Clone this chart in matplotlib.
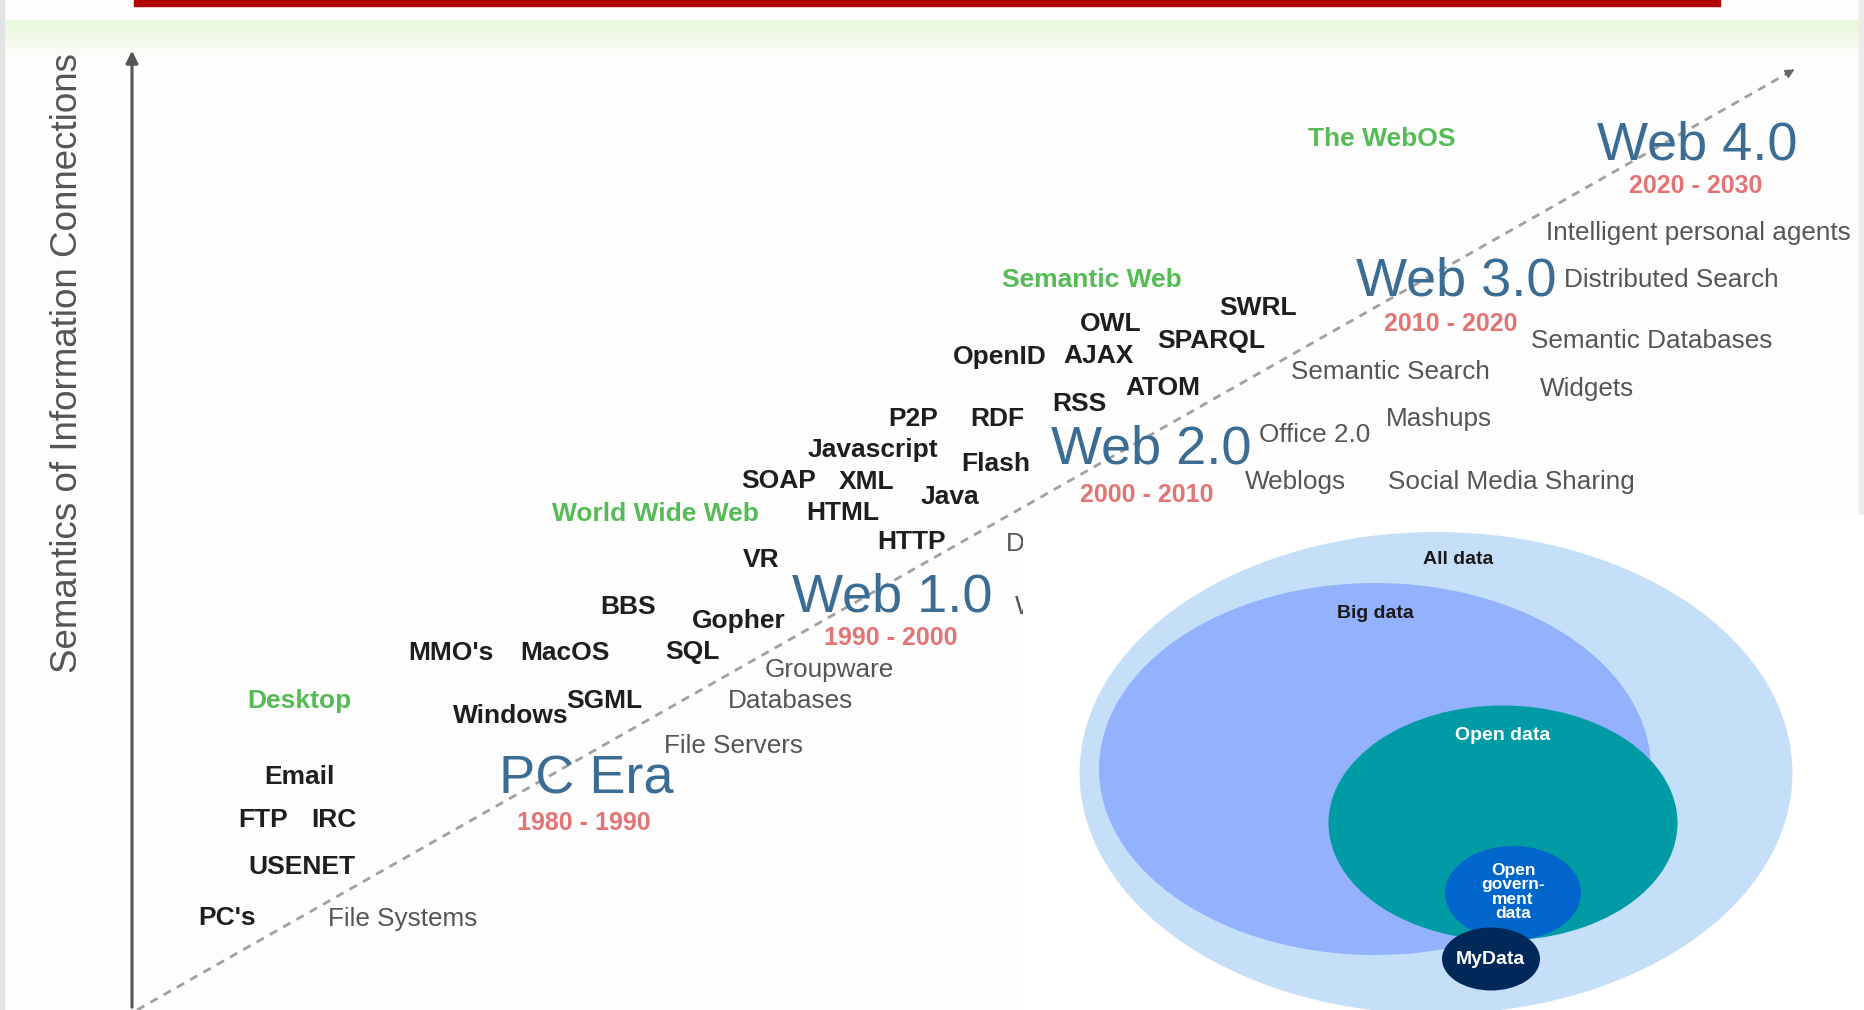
import matplotlib
matplotlib.use("Agg")
import matplotlib.pyplot as plt
import numpy as np
from matplotlib.patches import Ellipse, Rectangle

plt.rcParams['font.family'] = ['Liberation Sans', 'DejaVu Sans']

W, H = 1865, 1010

# ---------------- data (pixel positions in the 1865x1010 canvas) ----------------
era_titles = ["Web 4.0", "Web 3.0", "Web 2.0", "Web 1.0", "PC Era"]
era_title_x = [1697, 1456, 1151, 892, 586]
era_title_y = [145, 282, 450, 597, 780]

era_dates = ["2020 - 2030", "2010 - 2020", "2000 - 2010", "1990 - 2000", "1980 - 1990"]
era_date_x = [1696, 1451, 1147, 891, 584]
era_date_y = [186, 324, 495, 638, 823]

phase_labels = ["The WebOS", "Semantic Web", "World Wide Web", "Desktop"]
phase_x = [1382, 1092, 655, 299]
phase_y = [139, 280, 514, 701]

tech_labels = ["SWRL", "OWL", "SPARQL", "OpenID", "AJAX", "ATOM", "RSS", "P2P", "RDF",
               "Javascript", "Flash", "SOAP", "XML", "Java", "HTML", "HTTP", "VR", "BBS",
               "Gopher", "MMO's", "MacOS", "SQL", "SGML", "Windows", "Email", "FTP", "IRC",
               "USENET", "PC's"]
tech_x = [1258, 1111, 1211, 1000, 1099, 1163, 1079, 913, 997,
          873, 996, 779, 867, 950, 843, 912, 761, 628,
          739, 451, 565, 692, 604, 511, 299, 263, 334,
          302, 227]
tech_y = [308, 324, 341, 357, 356, 388, 404, 419, 419,
          450, 464, 481, 482, 497, 513, 542, 560, 607,
          621, 653, 653, 652, 701, 716, 777, 820, 820,
          867, 918]

app_labels = ["Intelligent personal agents", "Distributed Search", "Semantic Databases",
              "Semantic Search", "Widgets", "Mashups", "Office 2.0", "Weblogs",
              "Social Media Sharing", "Groupware", "Databases", "File Servers", "File Systems"]
app_x = [1698, 1671, 1652, 1390, 1587, 1439, 1315, 1295, 1511, 829, 791, 734, 403]
app_y = [233, 280, 341, 372, 389, 419, 435, 482, 482, 670, 701, 746, 919]

hidden_labels = ["Directories", "Websites"]
hidden_x = [1006, 1015]
hidden_y = [544, 607]

y_axis_label = "Semantics of Information Connections"

# nested data circles: label, centre x, centre y, width, height, colour
circle_names = ["All data", "Big data", "Open data", "Open\ngovern-\nment\ndata", "MyData"]
circle_cx = [1436, 1375, 1503, 1513, 1491]
circle_cy = [773, 769, 823, 893, 959]
circle_w = [713, 552, 349, 136, 98]
circle_h = [482, 372, 235, 94, 63]
circle_col = ["#c6dff9", "#93b1fd", "#019ba6", "#0066cc", "#00295a"]
circle_lab_x = [1458, 1375, 1503, 1513, 1490]
circle_lab_y = [559, 614, 735, 892, 959]
circle_lab_col = ["#1a1a1a", "#1a1a1a", "white", "white", "white"]

# ---------------- figure ----------------
fig = plt.figure(figsize=(W / 100, H / 100), dpi=100)
ax = fig.add_axes([0, 0, 1, 1])
ax.set_xlim(0, W)
ax.set_ylim(H, 0)
ax.axis('off')
fig.patch.set_facecolor('#fdfdfd')

# top decoration: red bar and a pale green fade
ax.add_patch(Rectangle((134, 0), 1586, 6, color='#b00000', zorder=3))
grad = np.linspace(1, 0, 100).reshape(-1, 1)
green = np.array([0.91, 0.97, 0.85])
white = np.array([0.995, 0.995, 0.995])
img = grad[..., None] * green + (1 - grad[..., None]) * white
img = np.repeat(img, 2, axis=1)
ax.imshow(img, extent=(5, 1860, 60, 20), aspect='auto', zorder=0)
ax.add_patch(Rectangle((0, 0), 4, H, color='#e3e3e3', zorder=1))
ax.add_patch(Rectangle((1859, 0), 6, 515, color='#ececec', zorder=1))

# vertical axis with arrow
ax.annotate('', xy=(132, 48), xytext=(132, H),
            arrowprops=dict(arrowstyle='-|>', color='#555555', lw=2.2,
                            mutation_scale=18), zorder=2)
ax.text(68, 363, y_axis_label, rotation=90, ha='center', va='center',
        fontsize=26.5, color='#555555', zorder=4)

# dashed diagonal trend line with arrow head
x0, y0, x1, y1 = 137, H, 1797, 68
ax.plot([x0, x1 - 8], [y0, y1 + 4.5], ls=(0, (3, 2.5)), color='#a0a0a0', lw=2, zorder=2)
ax.annotate('', xy=(x1, y1), xytext=(x1 - 14, y1 + 8),
            arrowprops=dict(arrowstyle='-|>', color='#666666', lw=1, mutation_scale=14),
            zorder=2)

for t, x, y in zip(era_titles, era_title_x, era_title_y):
    ax.text(x, y, t, ha='center', va='center', fontsize=39, color='#3b6d94', zorder=4)
for t, x, y in zip(era_dates, era_date_x, era_date_y):
    ax.text(x, y, t, ha='center', va='center', fontsize=18, fontweight='bold',
            color='#e27474', zorder=4)
for t, x, y in zip(phase_labels, phase_x, phase_y):
    ax.text(x, y, t, ha='center', va='center', fontsize=19, fontweight='bold',
            color='#55bb55', zorder=4)
for t, x, y in zip(tech_labels, tech_x, tech_y):
    ax.text(x, y, t, ha='center', va='center', fontsize=19, fontweight='bold',
            color='#1e1e1e', zorder=4)
for t, x, y in zip(app_labels, app_x, app_y):
    ax.text(x, y, t, ha='center', va='center', fontsize=18.8, color='#555555', zorder=4)
for t, x, y in zip(hidden_labels, hidden_x, hidden_y):
    ax.text(x, y, t, ha='left', va='center', fontsize=18.8, color='#555555', zorder=4)

# overlay panel with nested data circles
ax.add_patch(Rectangle((1023, 515), W - 1023, H - 515, facecolor='white',
                       edgecolor='none', zorder=5))
for cx, cy, w, h, c in zip(circle_cx, circle_cy, circle_w, circle_h, circle_col):
    ax.add_patch(Ellipse((cx, cy), w, h, facecolor=c, edgecolor='none', zorder=6))
for t, x, y, c in zip(circle_names, circle_lab_x, circle_lab_y, circle_lab_col):
    fs = 12.5 if '\n' in t else 14
    ax.text(x, y, t, ha='center', va='center', fontsize=fs, fontweight='bold',
            color=c, linespacing=0.97, zorder=7)

fig.savefig('out.png', dpi=100, facecolor=fig.get_facecolor())
